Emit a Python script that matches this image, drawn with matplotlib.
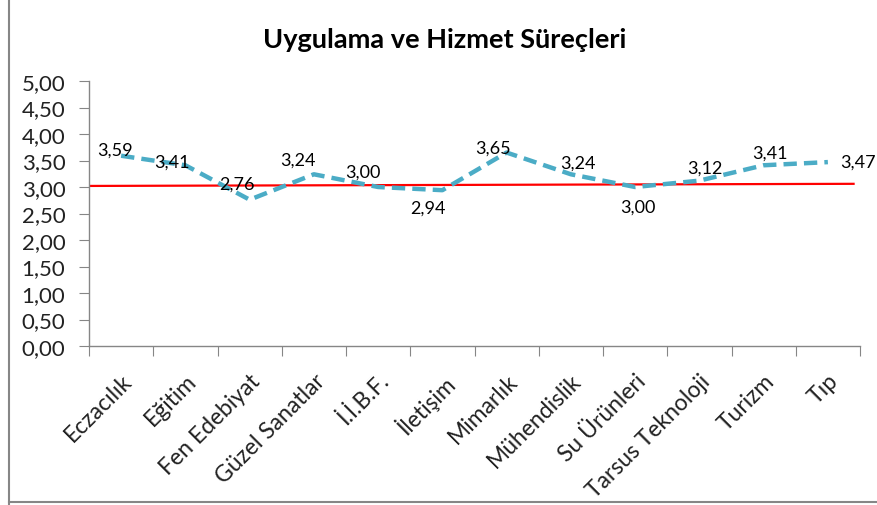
import matplotlib
matplotlib.use("Agg")
import matplotlib.pyplot as plt
from matplotlib.lines import Line2D

categories = ["Eczacılık", "Eğitim", "Fen Edebiyat", "Güzel Sanatlar", "İ.İ.B.F.",
              "İletişim", "Mimarlık", "Mühendislik", "Su Ürünleri", "Tarsus Teknoloji",
              "Turizm", "Tıp"]
scores = [3.59, 3.41, 2.76, 3.24, 3.00, 2.94, 3.65, 3.24, 3.00, 3.12, 3.41, 3.47]
ref_x = [-0.5, 11.4]
ref_y = [3.02, 3.06]
yticks = [0.0, 0.5, 1.0, 1.5, 2.0, 2.5, 3.0, 3.5, 4.0, 4.5, 5.0]

# label offsets in pixels (dx, dy)
label_offsets = [(-6, 6), (-13, 4), (-13, 16), (-16, 15), (-15, 15), (-14, -17),
                 (-14, 5), (7, 12), (3, -20), (5, 13), (6, 13), (30, 0)]

plt.rcParams["font.family"] = ["Lato", "DejaVu Sans"]

W, H = 877, 506
fig = plt.figure(figsize=(W / 100, H / 100), dpi=100)
ax = fig.add_axes([89 / W, 1 - 347 / H, (860 - 89) / W, (347 - 82) / H])

x = list(range(len(categories)))
ax.plot(ref_x, ref_y, color="#FF0000", lw=1.6, zorder=2)
ax.plot(x, scores, color="#4BACC6", lw=3.2, ls=(0, (3, 1.6)), zorder=3,
        solid_capstyle="butt", dash_capstyle="butt")

for xi, v, (dx, dy) in zip(x, scores, label_offsets):
    ax.annotate(f"{v:.2f}".replace(".", ","), (xi, v), xytext=(dx, dy),
                textcoords="offset pixels", ha="center", va="center",
                fontsize=13, color="black", zorder=4)

ax.set_xlim(-0.5, len(categories) - 0.5)
ax.set_ylim(0, 5)
ax.set_yticks(yticks)
ax.set_yticklabels([f"{t:.2f}".replace(".", ",") for t in yticks], fontsize=16, color="#222222")
ax.set_xticks([i - 0.5 for i in range(len(categories) + 1)])
ax.set_xticklabels([])
ax.set_xticks(x, minor=True)
ax.set_xticklabels(categories, minor=True, rotation=45, ha="right",
                   rotation_mode="anchor", fontsize=16.5, color="#222222")
ax.tick_params(axis="x", which="minor", length=0, pad=17)
ax.tick_params(axis="x", which="major", length=7, color="#868686", direction="out")
ax.tick_params(axis="y", length=7, color="#868686", direction="out", pad=10)

for side in ["top", "right"]:
    ax.spines[side].set_visible(False)
for side in ["left", "bottom"]:
    ax.spines[side].set_color("#868686")
    ax.spines[side].set_linewidth(1)

fig.text(445 / W, 1 - 40 / H, "Uygulama ve Hizmet Süreçleri", ha="center", va="center",
         fontsize=19.5, fontweight="bold", color="black")

# outer chart border
fig.add_artist(Line2D([8.5 / W, 8.5 / W], [0, 1], color="#868686", lw=1.5))
fig.add_artist(Line2D([8.5 / W, 1], [1 - 503 / H, 1 - 503 / H], color="#868686", lw=1.5))

fig.savefig("out.png", dpi=100)
